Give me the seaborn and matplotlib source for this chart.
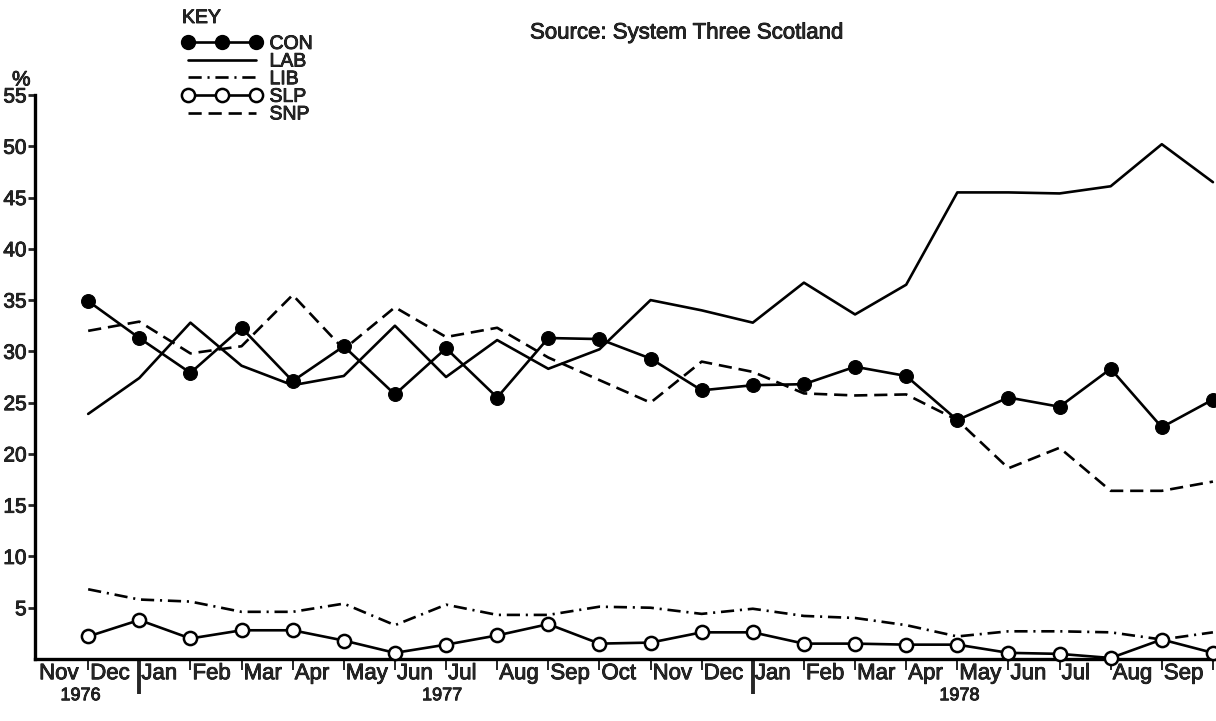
import matplotlib
matplotlib.use("Agg")
import matplotlib.pyplot as plt
import matplotlib.patheffects as pe
from matplotlib.lines import Line2D
from matplotlib.text import Text
import pandas as pd
import seaborn as sns

# months run Nov 1976 .. Sep 1978, each poll point sits at the end of its month
MONTHS = ["Nov", "Dec", "Jan", "Feb", "Mar", "Apr", "May", "Jun", "Jul",
          "Aug", "Sep", "Oct", "Nov", "Dec", "Jan", "Feb", "Mar", "Apr",
          "May", "Jun", "Jul", "Aug", "Sep"]
YEARS = [("1976", -0.15), ("1977", 6.92), ("1978", 17.04)]
YEAR_BREAKS = [1, 13]

CON = [34.9, 31.3, 27.9, 32.3, 27.1, 30.5, 25.8, 30.3, 25.5, 31.3, 31.2, 29.3,
       26.2, 26.7, 26.8, 28.5, 27.6, 23.3, 25.5, 24.6, 28.3, 22.6, 25.3]
LAB = [23.9, 27.4, 32.8, 28.6, 26.7, 27.6, 32.5, 27.5, 31.1, 28.3, 30.2, 35.0,
       34.0, 32.8, 36.7, 33.6, 36.5, 45.5, 45.5, 45.4, 46.1, 50.2, 46.5]
LIB = [6.8, 5.8, 5.6, 4.6, 4.6, 5.4, 3.3, 5.3, 4.3, 4.3, 5.1, 5.0,
       4.4, 4.9, 4.2, 4.0, 3.3, 2.2, 2.7, 2.7, 2.6, 1.9, 2.6]
SLP = [2.2, 3.8, 2.0, 2.8, 2.8, 1.8, 0.6, 1.4, 2.3, 3.4, 1.5, 1.6,
       2.6, 2.6, 1.5, 1.5, 1.4, 1.4, 0.6, 0.5, 0.1, 1.9, 0.6]
SNP = [32.0, 32.9, 29.8, 30.5, 35.5, 30.2, 34.3, 31.4, 32.3, 29.4, 27.2, 25.0,
       29.0, 28.0, 25.9, 25.7, 25.8, 23.3, 18.6, 20.6, 16.4, 16.4, 17.3]

YTICKS = [5, 10, 15, 20, 25, 30, 35, 40, 45, 50, 55]

STYLES = {
    "CON": dict(linestyle="-", marker="o", markersize=10,
                markerfacecolor="black", markeredgecolor="black", zorder=5),
    "LAB": dict(linestyle="-", zorder=3),
    "LIB": dict(linestyle=(0, (5, 2.2, 0.8, 2.2)), zorder=3),
    "SLP": dict(linestyle="-", marker="o", markersize=9.5,
                markerfacecolor="white", markeredgecolor="black",
                markeredgewidth=1.8, zorder=4),
    "SNP": dict(linestyle=(0, (5, 2.6)), zorder=3),
}


def main():
    sns.set_style("white")
    plt.rcParams["font.family"] = ["Liberation Sans", "DejaVu Sans"]

    pos = list(range(len(MONTHS)))
    df = pd.DataFrame({"pos": pos, "CON": CON, "LAB": LAB, "LIB": LIB,
                       "SLP": SLP, "SNP": SNP})

    fig = plt.figure(figsize=(12.16, 7.21), dpi=100)
    ax = fig.add_axes([35 / 1216, 62 / 721, 1 - 35 / 1216, 564 / 721])

    for party, kw in STYLES.items():
        sns.lineplot(data=df, x="pos", y=party, ax=ax, color="black",
                     linewidth=1.9, clip_on=False, **kw)

    ax.set_xlim(-1.04, 22.06)
    ax.set_ylim(0, 55)
    ax.set_xlabel("")
    ax.set_ylabel("")

    for side in ("top", "right"):
        ax.spines[side].set_visible(False)
    for side in ("left", "bottom"):
        ax.spines[side].set_linewidth(2.4)
        ax.spines[side].set_color("black")

    ax.set_yticks(YTICKS)
    ax.set_yticklabels([str(v) for v in YTICKS], fontsize=15)
    ax.tick_params(axis="y", direction="out", length=5, width=2, pad=1,
                   left=True)

    # boundary ticks at every poll point, longer at the year breaks
    ax.set_xticks(pos)
    ax.set_xticklabels([])
    ax.tick_params(axis="x", which="major", direction="out", length=8,
                   width=1.4, bottom=True)
    for i, tick in enumerate(ax.xaxis.get_major_ticks()):
        if i in YEAR_BREAKS:
            tick.tick1line.set_markersize(25)
            tick.tick1line.set_markeredgewidth(2.8)

    ax.set_xticks([p - 0.96 for p in pos], minor=True)
    ax.set_xticklabels(MONTHS, minor=True, fontsize=16)
    ax.tick_params(axis="x", which="minor", length=0, pad=3)
    for lab in ax.get_xticklabels(minor=True):
        lab.set_ha("left")

    for year, p in YEARS:
        ax.text(p, -0.05, year, transform=ax.get_xaxis_transform(),
                ha="center", va="top", fontsize=13)

    fig.text(12 / 1216, 1 - 80 / 721, "%", fontsize=15, va="center")
    fig.text(530 / 1216, 1 - 33 / 721, "Source: System Three Scotland",
             fontsize=16, va="center")

    handles = []
    for party, kw in STYLES.items():
        handles.append(Line2D([], [], color="black", linewidth=1.9,
                              **{k: v for k, v in kw.items() if k != "zorder"}))
    leg = fig.legend(handles, list(STYLES), title="KEY", loc="upper left",
                     bbox_to_anchor=(182 / 1216, 1 - 10 / 721), frameon=False,
                     numpoints=3, handlelength=4.1, handletextpad=0.4,
                     labelspacing=0.0, fontsize=14, title_fontsize=14,
                     alignment="left", borderpad=0, borderaxespad=0)
    leg._legend_box.sep = 6

    # printed type looks heavier than a plain regular face
    for t in fig.findobj(Text):
        t.set_path_effects([pe.withStroke(linewidth=0.6, foreground="black")])

    fig.savefig("out.png", dpi=100)
    plt.close(fig)


if __name__ == "__main__":
    main()
